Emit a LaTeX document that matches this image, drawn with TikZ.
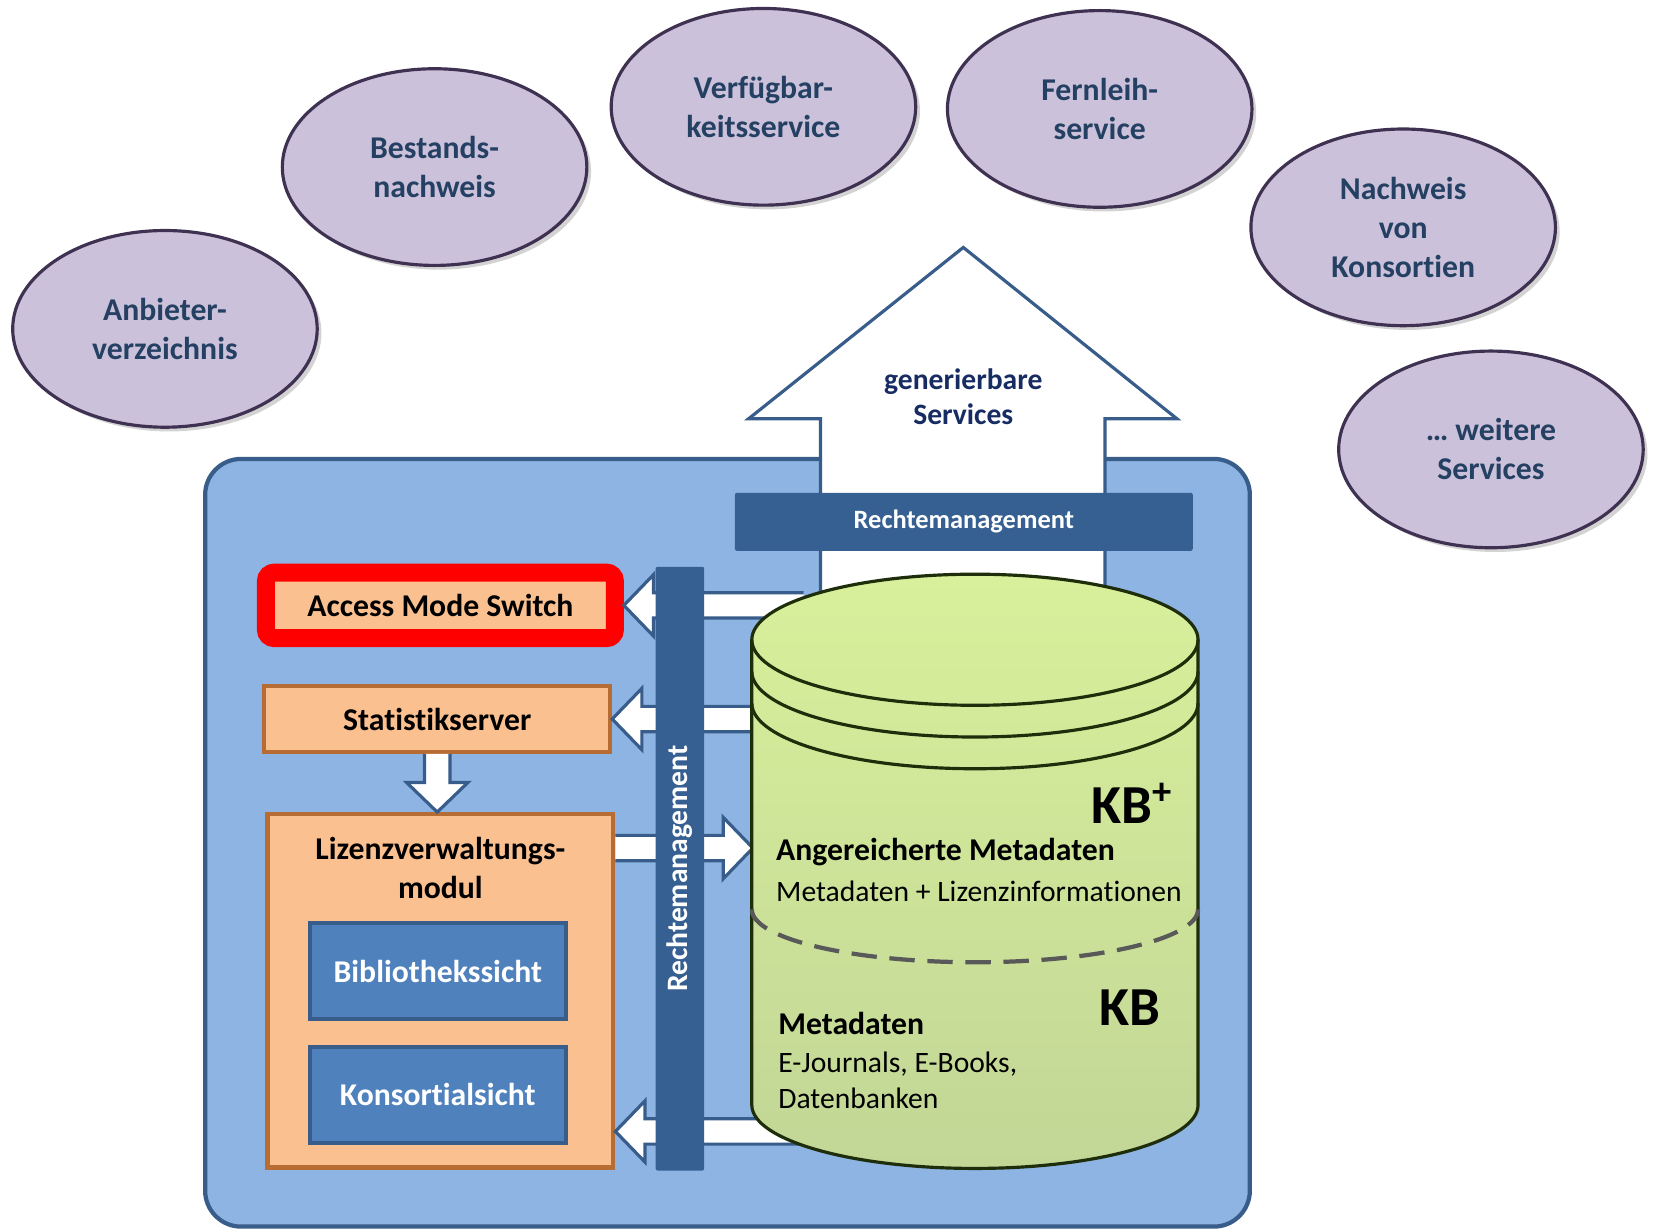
\documentclass[tikz,border=0pt]{standalone}
\usepackage{fontspec}
\setmainfont{Carlito}[Ligatures=NoCommon]
\usetikzlibrary{calc,shapes.geometric,shadows}

\definecolor{boxblue}{RGB}{142,180,227}
\definecolor{edgeblue}{RGB}{56,93,138}
\definecolor{barblue}{RGB}{55,96,146}
\definecolor{viewblue}{RGB}{79,129,189}
\definecolor{peach}{RGB}{250,192,144}
\definecolor{peachedge}{RGB}{182,108,50}
\definecolor{lilac}{RGB}{204,193,218}
\definecolor{lilacedge}{RGB}{63,49,81}
\definecolor{servtext}{RGB}{36,64,98}
\definecolor{navy}{RGB}{23,44,99}
\definecolor{kbtop}{RGB}{216,240,155}
\definecolor{kbbottom}{RGB}{194,214,150}
\definecolor{kbedge}{RGB}{30,45,10}

\begin{document}
\begin{tikzpicture}[x=0.5pt, y=0.5pt,
    every node/.style={font=\bfseries\fontsize{15}{18.5}\selectfont},
    service/.style={ellipse, draw=lilacedge, line width=1.5pt, fill=lilac, text=servtext,
        minimum width=144pt, minimum height=93pt, align=center,
        drop shadow={shadow xshift=2pt, shadow yshift=-2pt, opacity=0.35}},
    module/.style={draw=peachedge, line width=2pt, fill=peach, minimum width=163.5pt},
    view/.style={draw=edgeblue, line width=2pt, fill=viewblue, text=white,
        minimum width=121pt, minimum height=45.5pt},
    bar/.style={fill=barblue, rounded corners=1pt, text=white},
    blockarrow/.style={draw=edgeblue, line width=1.5pt, fill=white, line join=miter}]
    \useasboundingbox (0,0) rectangle (1568,-1164);
    % services
    \node[service] (anb) at (156,-311) {Anbieter-\\verzeichnis};
    \node[service] (best) at (411,-158) {Bestands-\\nachweis};
    \node[service] (verf) at (722,-101) {Verfügbar-\\keitsservice};
    \node[service] (fern) at (1040,-103) {Fernleih-\\service};
    \node[service] (konso) at (1327,-215) {Nachweis\\von\\Konsortien};
    \node[service] (weit) at (1410,-425) {… weitere\\Services};
    % system box and service arrow
    \draw[draw=edgeblue, fill=boxblue, line width=2pt, rounded corners=17pt]
        (194,-434) rectangle (1182,-1160);
    \draw[blockarrow] (776,-620) -- (776,-396) -- (708,-396) -- (911,-234)
        -- (1113,-396) -- (1045,-396) -- (1045,-620);
    \node[text=navy, align=center, font=\bfseries\fontsize{14}{16.5}\selectfont] (gen)
        at (911,-375) {generierbare\\Services};
    \node[bar, minimum width=216.5pt, minimum height=27.5pt,
        font=\bfseries\fontsize{12.5}{15}\selectfont] (rmh) at (911.5,-493.5) {Rechtemanagement};
    % modules
    \node[module, draw=red, line width=8.5pt, rounded corners=4pt, minimum width=165pt,
        minimum height=31pt] (ams) at (416.5,-572.5) {Access Mode Switch};
    \node[module, minimum height=31pt] (stat) at (413.5,-680) {Statistikserver};
    \node[module, minimum height=167pt] (liz) at (416.5,-937) {};
    \node[align=center] (liztitle) at (416.5,-821) {Lizenzverwaltungs-\\modul};
    \node[view] (bib) at (414,-918.5) {Bibliothekssicht};
    \node[view] (kons) at (414,-1035.5) {Konsortialsicht};
    % block arrows
    \coordinate (kbin) at (760,0);
    \coordinate (kbleft) at (712,0);
    \coordinate (lizup) at ([yshift=-17pt]liz.north east);
    \coordinate (lizlow) at ([yshift=18pt]liz.south east);
    \foreach \src/\dst in {ams.east -| kbin/ams.east, stat.east -| kbin/stat.east,
        lizup/lizup -| kbleft, lizlow -| kbin/lizlow, stat.south/stat.south |- liz.north} {
        \coordinate (head) at ($(\dst)!14pt!(\src)$);
        \draw[blockarrow] ($(\src)!6pt!90:(\dst)$) -- ($(head)!6pt!-90:(\src)$)
            -- ($(head)!14.5pt!-90:(\src)$) -- (\dst) -- ($(head)!14.5pt!90:(\src)$)
            -- ($(head)!6pt!90:(\src)$) -- ($(\src)!6pt!-90:(\dst)$);
    }
    \node[bar, rotate=90, minimum width=285.5pt, minimum height=23pt,
        font=\bfseries\fontsize{14}{16}\selectfont] (rmv) at (643,-821.5) {Rechtemanagement};
    % knowledge base
    \shade[top color=kbtop, bottom color=kbbottom] (711,-605) -- (711,-1045)
        arc[start angle=180, end angle=360, x radius=105.5pt, y radius=30pt]
        -- (1133,-605) arc[start angle=0, end angle=180, x radius=105.5pt, y radius=31pt] -- cycle;
    \draw[kbedge, line width=1.5pt] (711,-605) -- (711,-1045)
        arc[start angle=180, end angle=360, x radius=105.5pt, y radius=30pt] -- (1133,-605);
    \draw[kbedge, line width=1.5pt] (922,-605) ellipse [x radius=105.5pt, y radius=31pt];
    \foreach \y in {635,665} {
        \draw[kbedge, line width=1.5pt] (711,-\y)
            arc[start angle=180, end angle=360, x radius=105.5pt, y radius=31pt];
    }
    \draw[black!65, line width=2pt, dash pattern=on 12pt off 6pt] (711,-860)
        arc[start angle=180, end angle=360, x radius=105.5pt, y radius=25pt];
    \node[anchor=east, font=\bfseries\fontsize{26}{28}\selectfont] (kbplus)
        at (1116,-760) {KB\textsuperscript{+}};
    \node[anchor=west] (angr) at (727,-806) {Angereicherte Metadaten};
    \node[anchor=west, font=\fontsize{14}{17}\selectfont] (mdlic)
        at (727,-843) {Metadaten + Lizenzinformationen};
    \node[anchor=east, font=\bfseries\fontsize{26}{28}\selectfont] (kb) at (1104,-953) {KB};
    \node[anchor=west] (md) at (729,-968) {Metadaten};
    \node[anchor=west, align=left, font=\fontsize{14}{17}\selectfont] (mdtypes)
        at (729,-1022) {E-Journals, E-Books,\\Datenbanken};
\end{tikzpicture}
\end{document}
